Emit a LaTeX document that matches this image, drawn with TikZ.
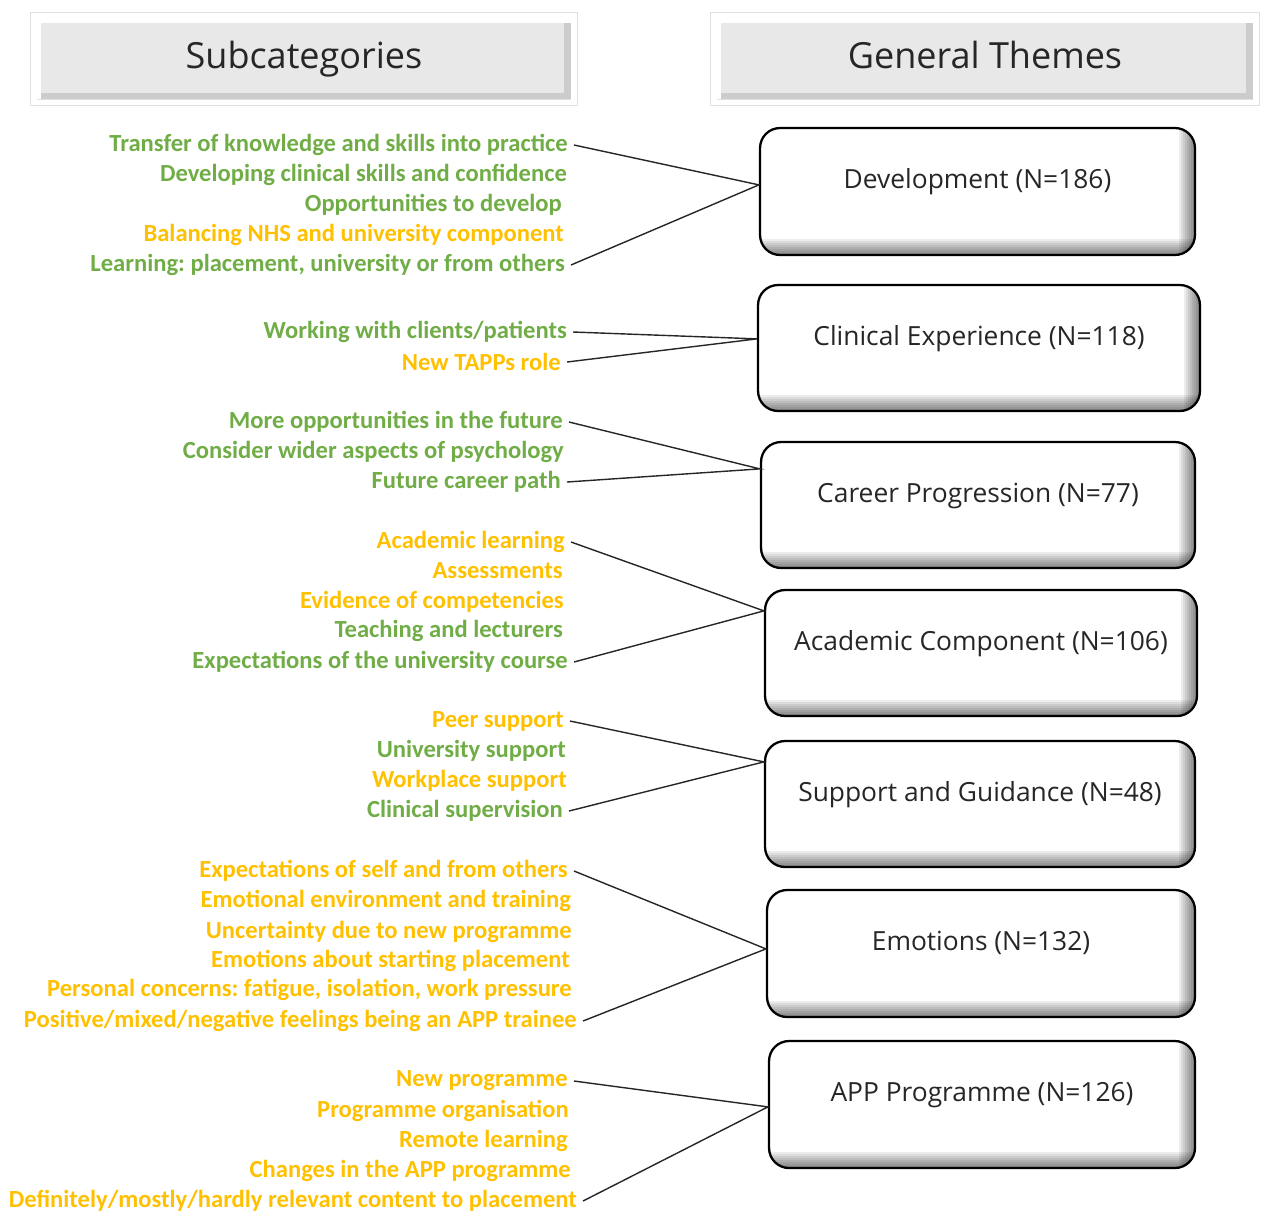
\documentclass[tikz,border=0pt]{standalone}
\usepackage{fontspec}
\setmainfont{Carlito}
\newfontfamily\headfont{Open Sans}
\usetikzlibrary{calc,shadows}
\definecolor{subgreen}{HTML}{70AD47}
\definecolor{subgold}{HTML}{FFC000}
\tikzset{
	header/.style={draw=black!12,line width=0.4pt,double=white,double distance=0.12cm,fill=black!9,
		minimum height=1.74cm,font=\headfont\fontsize{20.5}{24}\selectfont,text=black!85,
		text height=0.55cm,text depth=0.16cm,
		drop shadow={opacity=0.15,shadow xshift=0.04cm,shadow yshift=-0.08cm},
		path picture={
			\draw [black!20,line width=0.4cm] (path picture bounding box.south west) -- (path picture bounding box.south east) -- (path picture bounding box.north east);
			\draw [white,line width=0.3cm] (path picture bounding box.south west) -- (path picture bounding box.north west) -- (path picture bounding box.north east);
		}},
	theme/.style={draw=black,line width=1.3pt,rounded corners=0.4cm,fill=white,
		minimum height=2.54cm,font=\headfont\fontsize{15}{18}\selectfont,text=black!85,
		text height=0.4cm,text depth=0.52cm,
		path picture={
			\foreach \k in {1,...,8} {
				\fill [sharp corners,black,opacity=0.07] ([xshift=-\k*0.04cm]path picture bounding box.north east) rectangle (path picture bounding box.south east);
				\fill [sharp corners,black,opacity=0.07] ([yshift=\k*0.04cm]path picture bounding box.south west) rectangle (path picture bounding box.south east);
			}
		}},
	sub/.style={anchor=east,yshift=-0.04cm,font=\bfseries\fontsize{14}{17}\selectfont},
	link/.style={black!85,line width=0.8pt}
}
\begin{document}
\frenchspacing
\begin{tikzpicture}[x=0.02cm,y=-0.02cm]
	\useasboundingbox (0,0) rectangle (1263,1215);

	% column headers
	\node [header,minimum width=10.82cm] (hsub) at (304,59) {Subcategories};
	\node [header,minimum width=10.86cm] (htheme) at (985,59) {General Themes};

	% general themes
	\node [theme,minimum width=8.7cm] (dev) at (977.5,191.5) {Development (N=186)};
	\node [theme,minimum width=8.84cm,minimum height=2.52cm] (clin) at (979,348) {Clinical Experience (N=118)};
	\node [theme,minimum width=8.68cm,minimum height=2.52cm] (career) at (978,505) {Career Progression (N=77)};
	\node [theme,minimum width=8.64cm,minimum height=2.52cm] (acad) at (981,653) {Academic Component (N=106)};
	\node [theme,minimum width=8.6cm,minimum height=2.52cm] (supp) at (980,804) {Support and Guidance (N=48)};
	\node [theme,minimum width=8.56cm] (emo) at (981,953.5) {Emotions (N=132)};
	\node [theme,minimum width=8.52cm] (app) at (982,1104.5) {APP Programme (N=126)};

	% subcategories
	\foreach \x/\y/\c/\t [count=\i] in {
		574/143/subgreen/{Transfer of knowledge and skills into practice},
		573/173/subgreen/{Developing clinical skills and confidence},
		568/203/subgreen/{Opportunities to develop},
		570/233/subgold/{Balancing NHS and university component},
		571/263/subgreen/{Learning: placement, university or from others}}
		\node [sub,text=\c] (d\i) at (\x,\y) {\t};

	\foreach \x/\y/\c/\t [count=\i] in {
		573/330/subgreen/{Working with clients/patients},
		567/360/subgold/{New TAPPs role}}
		\node [sub,text=\c] (c\i) at (\x,\y) {\t};

	\foreach \x/\y/\c/\t [count=\i] in {
		569/420/subgreen/{More opportunities in the future},
		570/450/subgreen/{Consider wider aspects of psychology},
		567/480/subgreen/{Future career path}}
		\node [sub,text=\c] (p\i) at (\x,\y) {\t};

	\foreach \x/\y/\c/\t [count=\i] in {
		571/540/subgold/{Academic learning},
		569/569/subgold/{Assessments},
		570/600/subgold/{Evidence of competencies},
		569/629/subgreen/{Teaching and lecturers},
		574/660/subgreen/{Expectations of the university course}}
		\node [sub,text=\c] (a\i) at (\x,\y) {\t};

	\foreach \x/\y/\c/\t [count=\i] in {
		570/719/subgold/{Peer support},
		572/749/subgreen/{University support},
		573/779/subgold/{Workplace support},
		569/809/subgreen/{Clinical supervision}}
		\node [sub,text=\c] (s\i) at (\x,\y) {\t};

	\foreach \x/\y/\t [count=\i] in {
		574/869/{Expectations of self and from others},
		577/899/{Emotional environment and training},
		578/930/{Uncertainty due to new programme},
		576/959/{Emotions about starting placement},
		578/988/{Personal concerns: fatigue, isolation, work pressure},
		583/1019/{Positive/mixed/negative feelings being an APP trainee}}
		\node [sub,text=subgold] (e\i) at (\x,\y) {\t};

	\foreach \x/\y/\t [count=\i] in {
		574/1079/{New programme},
		575/1109/{Programme organisation},
		574/1139/{Remote learning},
		577/1169/{Changes in the APP programme},
		583/1199/{Definitely/mostly/hardly relevant content to placement}}
		\node [sub,text=subgold] (g\i) at (\x,\y) {\t};

	% links
	\coordinate (devin) at ($(dev.north west)+(0,58)$);
	\coordinate (clinin) at ($(clin.north west)+(0,55)$);
	\coordinate (careerin) at ($(career.north west)+(0,28)$);
	\coordinate (acadin) at ($(acad.north west)+(0,22)$);
	\coordinate (suppin) at ($(supp.north west)+(0,22)$);
	\coordinate (emoin) at ($(emo.north west)+(0,60)$);
	\coordinate (appin) at ($(app.north west)+(0,67)$);

	\draw [link] (d1.east) -- (devin) -- (d5.east);
	\draw [link] (c1.east) -- (clinin) -- (c2.east);
	\draw [link] (p1.east) -- (careerin) -- (p3.east);
	\draw [link] (a1.east) -- (acadin) -- (a5.east);
	\draw [link] (s1.east) -- (suppin) -- (s4.east);
	\draw [link] (e1.east) -- (emoin) -- (e6.east);
	\draw [link] (g1.east) -- (appin) -- (g5.east);
\end{tikzpicture}
\end{document}
